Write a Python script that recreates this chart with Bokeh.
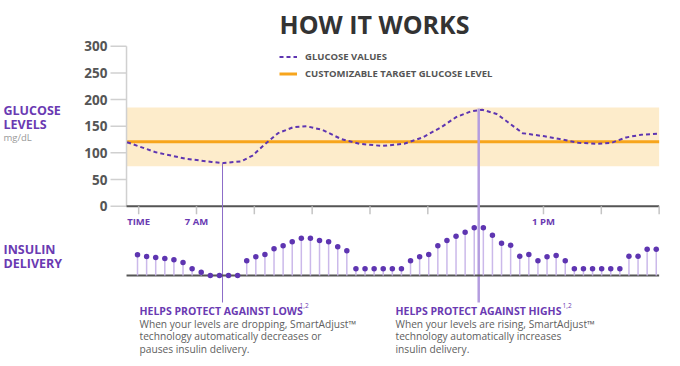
from bokeh.plotting import figure
from bokeh.models import (Range1d, Label, BoxAnnotation, Legend, LegendItem)
from bokeh.core.properties import value
from bokeh.embed import file_html
from bokeh.resources import INLINE
import numpy as np

# ---------------- data ----------------
glucose_hours = [5.80, 6.30, 6.81, 7.26, 7.47, 7.77, 7.97, 8.16, 8.41, 8.67, 8.90,
                 9.18, 9.50, 9.82, 10.21, 10.59, 10.91, 11.23, 11.49, 11.75, 11.94,
                 12.19, 12.38, 12.64, 13.02, 13.28, 13.60, 13.92, 14.18, 14.43,
                 14.69, 14.98]
glucose_values = [120, 101, 89, 83, 81, 84, 95, 114, 137, 148, 150, 143, 126, 117,
                  113, 117, 129, 148, 167, 178, 181, 173, 158, 137, 131, 126, 119,
                  117, 119, 129, 134, 136]
target_level = 121
target_low, target_high = 75, 185

insulin_rates = [6.2, 5.7, 5.4, 5.1, 4.7, 3.9, 2.0, 1.0, 0, 0, 0, 0,
                 4.4, 5.6, 6.3, 8.0, 8.9, 10.1, 11.2, 11.2, 10.5, 10.1, 8.6, 7.4,
                 2.0, 2.0, 2.0, 2.0, 2.0, 2.0,
                 4.4, 5.6, 6.3, 8.9, 10.5, 11.8, 13.0, 14.3, 14.3, 12.1, 9.7, 9.1,
                 5.8, 6.3, 4.4, 5.6, 6.0, 4.4,
                 2.0, 2.0, 2.0, 2.0, 2.0, 2.0,
                 5.8, 5.8, 7.9, 7.9]
insulin_first_hour, insulin_last_hour = 5.98, 14.95

time_start, time_end = 5.79, 15.0
x_tick_hours = [6, 7, 8, 9, 10, 11, 13, 14, 15]
x_tick_labels = {6: "TIME", 7: "7 AM", 13: "1 PM"}
y_ticks = [0, 50, 100, 150, 200, 250, 300]

lows_hour, lows_top = 7.45, 81
highs_hour, highs_top = 11.88, 183

# ---------------- style / geometry ----------------
FONT = "Open Sans"
PURPLE = "#5e35b1"
PURPLE_TXT = "#6a3ab2"
GRAY_TXT = "#555555"
W, H = 672, 360
PX_PER_HOUR = 57.83
PX_PER_UNIT = 0.5333          # px per mg/dL
ZERO_PY = 205.7               # pixel row of glucose 0
SEVEN_PX = 196                # pixel column of 7 AM
INS_BASE_PY = 275             # pixel row of insulin baseline
INS_PX = 3.333                # px per insulin unit

X0 = 7 - SEVEN_PX / PX_PER_HOUR
X1 = 7 + (W - SEVEN_PX) / PX_PER_HOUR
Y1 = ZERO_PY / PX_PER_UNIT
Y0 = -(H - ZERO_PY) / PX_PER_UNIT

p = figure(width=W, height=H, x_range=Range1d(X0, X1), y_range=Range1d(Y0, Y1),
           output_backend="svg", toolbar_location=None,
           x_axis_location=None, y_axis_location=None,
           min_border_left=0, min_border_right=0, min_border_top=0,
           min_border_bottom=0)
p.outline_line_color = None
p.grid.visible = False
p.extra_y_ranges = {"ins": Range1d(-(H - INS_BASE_PY) / INS_PX, INS_BASE_PY / INS_PX)}

def hx(px):
    return 7 + (px - SEVEN_PX) / PX_PER_HOUR

def gy(py):
    return (ZERO_PY - py) / PX_PER_UNIT

# target band & line
p.add_layout(BoxAnnotation(left=time_start, right=time_end, bottom=target_low,
                           top=target_high, fill_color="#fdeccb", fill_alpha=1,
                           line_color=None, level="underlay"))
t_r = p.line([time_start, time_end], [target_level, target_level],
             line_color="#f7a51c", line_width=3)

# y axis (drawn from tick list through the scales)
p.segment(x0=[time_start], y0=[0], x1=[time_start], y1=[300],
          line_color="#d0d0d0", line_width=1.5)
ytl = 16 / PX_PER_HOUR
p.segment(x0=[time_start - ytl] * len(y_ticks), y0=y_ticks,
          x1=[time_start] * len(y_ticks), y1=y_ticks,
          line_color="#d0d0d0", line_width=1.5)
p.text(x=[hx(107)] * len(y_ticks), y=y_ticks, text=[str(t) for t in y_ticks],
       text_align="right", text_baseline="middle", text_font=value(FONT),
       text_font_style="bold", text_font_size="13.5px", text_color=GRAY_TXT)

# glucose curve
g_r = p.line(glucose_hours, glucose_values, line_color=PURPLE, line_width=2,
             line_dash="4 3")

# x axis at glucose 0
p.segment(x0=[time_start], y0=[0], x1=[time_end], y1=[0],
          line_color="#555555", line_width=2)
tick_len = 8 / PX_PER_UNIT
p.segment(x0=x_tick_hours, y0=[0] * len(x_tick_hours), x1=x_tick_hours,
          y1=[-tick_len] * len(x_tick_hours), line_color="#c4c4c4", line_width=1.5)
lab_h = list(x_tick_labels.keys())
p.text(x=lab_h, y=[gy(221)] * len(lab_h),
       text=list(x_tick_labels.values()), text_align="center", text_baseline="middle",
       text_font=value(FONT), text_font_style="bold", text_font_size="9.5px",
       text_color=PURPLE_TXT)

# annotation lines
bottom_val = gy(302)
p.segment(x0=[lows_hour], y0=[lows_top], x1=[lows_hour], y1=[bottom_val],
          line_color="#8c6bc8", line_width=1)
p.segment(x0=[highs_hour], y0=[highs_top], x1=[highs_hour], y1=[bottom_val],
          line_color="#b49ddf", line_width=2.5)

# insulin delivery lollipops
ins_t = np.linspace(insulin_first_hour, insulin_last_hour, len(insulin_rates))
p.segment(x0=[time_start], y0=[0], x1=[time_end], y1=[0], line_color="#555555",
          line_width=2, y_range_name="ins")
p.segment(x0=ins_t, y0=np.zeros(len(ins_t)), x1=ins_t, y1=insulin_rates,
          line_color="#cbb9ea", line_width=1.5, y_range_name="ins")
p.scatter(ins_t, insulin_rates, size=5.5, fill_color=PURPLE, line_color=None,
          y_range_name="ins")

# legend
legend = Legend(items=[LegendItem(label="GLUCOSE VALUES", renderers=[g_r]),
                       LegendItem(label="CUSTOMIZABLE TARGET GLUCOSE LEVEL", renderers=[t_r])],
                location=(279, H - 81), glyph_width=18, glyph_height=15,
                label_height=15, spacing=2, padding=0, margin=0, label_standoff=8,
                border_line_color=None, background_fill_alpha=0,
                label_text_font=FONT, label_text_font_size="9.5px",
                label_text_font_style="bold", label_text_color=GRAY_TXT)
p.add_layout(legend)

def lab(text, px, py, size, color, style="normal", align="left"):
    p.add_layout(Label(x=px, y=H - py, x_units="screen", y_units="screen",
                       text=text, text_font=FONT, text_font_size=size,
                       text_font_style=style, text_color=color,
                       text_align=align, text_baseline="middle"))

lab("HOW IT WORKS", 374, 23, "25px", "#333333", "bold", "center")
lab("GLUCOSE", 3, 109.5, "12.5px", PURPLE_TXT, "bold")
lab("LEVELS", 3, 124, "12.5px", PURPLE_TXT, "bold")
lab("mg/dL", 3, 137, "9.5px", "#999999")
lab("INSULIN", 3, 249, "12.5px", PURPLE_TXT, "bold")
lab("DELIVERY", 3, 262.5, "12.5px", PURPLE_TXT, "bold")

lab("HELPS PROTECT AGAINST LOWS", 139, 310, "10.5px", PURPLE_TXT, "bold")
lab("1,2", 299, 305, "6.5px", PURPLE_TXT)
lab("When your levels are dropping, SmartAdjust\u2122", 139, 323, "10.2px", "#606060")
lab("technology automatically decreases or", 139, 335.5, "10.2px", "#606060")
lab("pauses insulin delivery.", 139, 348, "10.2px", "#606060")

lab("HELPS PROTECT AGAINST HIGHS", 395, 310, "10.5px", PURPLE_TXT, "bold")
lab("1,2", 562, 305, "6.5px", PURPLE_TXT)
lab("When your levels are rising, SmartAdjust\u2122", 395, 323, "10.2px", "#606060")
lab("technology automatically increases", 395, 335.5, "10.2px", "#606060")
lab("insulin delivery.", 395, 348, "10.2px", "#606060")

open("out.html", "w").write(file_html(p, INLINE))
